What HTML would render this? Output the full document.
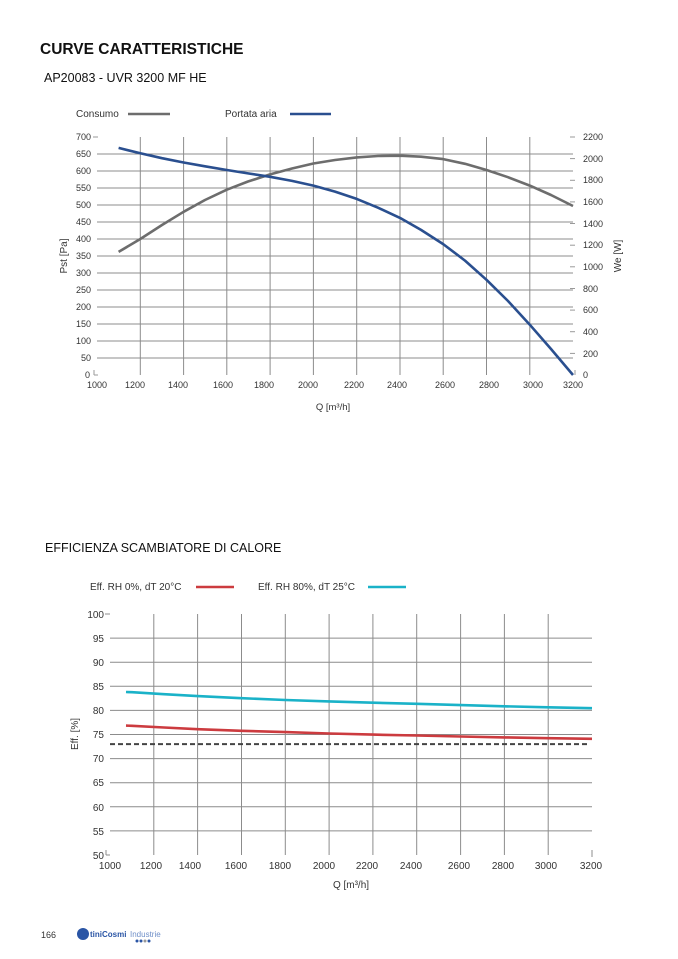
<!DOCTYPE html>
<html><head><meta charset="utf-8"><style>
html,body{margin:0;padding:0;background:#fff;}
svg{display:block;font-family:"Liberation Sans",sans-serif;}
</style></head><body>
<svg width="678" height="959" viewBox="0 0 678 959" xmlns="http://www.w3.org/2000/svg">
<text x="40" y="54" font-size="15.5" font-weight="bold" fill="#111">CURVE CARATTERISTICHE</text>
<text x="44" y="82" font-size="12.5" fill="#111">AP20083 - UVR 3200 MF HE</text>
<text x="76" y="117" font-size="10" fill="#333">Consumo</text>
<line x1="128" y1="114" x2="170" y2="114" stroke="#6d6d6d" stroke-width="2.5"/>
<text x="225" y="117" font-size="10" fill="#333">Portata aria</text>
<line x1="290" y1="114" x2="331" y2="114" stroke="#2a4f8f" stroke-width="2.5"/>
<g stroke="#8c8c8c" stroke-width="1">
<line x1="97" y1="358" x2="573" y2="358"/><line x1="97" y1="341" x2="573" y2="341"/><line x1="97" y1="324" x2="573" y2="324"/><line x1="97" y1="307" x2="573" y2="307"/><line x1="97" y1="290" x2="573" y2="290"/><line x1="97" y1="273" x2="573" y2="273"/><line x1="97" y1="256" x2="573" y2="256"/><line x1="97" y1="239" x2="573" y2="239"/><line x1="97" y1="222" x2="573" y2="222"/><line x1="97" y1="205" x2="573" y2="205"/><line x1="97" y1="188" x2="573" y2="188"/><line x1="97" y1="171" x2="573" y2="171"/><line x1="97" y1="154" x2="573" y2="154"/>
<line x1="140.3" y1="137" x2="140.3" y2="375"/><line x1="183.6" y1="137" x2="183.6" y2="375"/><line x1="226.8" y1="137" x2="226.8" y2="375"/><line x1="270.1" y1="137" x2="270.1" y2="375"/><line x1="313.4" y1="137" x2="313.4" y2="375"/><line x1="356.7" y1="137" x2="356.7" y2="375"/><line x1="400" y1="137" x2="400" y2="375"/><line x1="443.2" y1="137" x2="443.2" y2="375"/><line x1="486.5" y1="137" x2="486.5" y2="375"/><line x1="529.8" y1="137" x2="529.8" y2="375"/>
</g>
<g stroke="#9a9a9a"><line x1="93" y1="137" x2="98" y2="137"/><line x1="94" y1="370" x2="94" y2="375"/><line x1="94" y1="375" x2="98" y2="375"/>
<line x1="570" y1="137" x2="575" y2="137"/><line x1="570" y1="158.6" x2="575" y2="158.6"/><line x1="570" y1="180.3" x2="575" y2="180.3"/><line x1="570" y1="201.9" x2="575" y2="201.9"/><line x1="570" y1="223.5" x2="575" y2="223.5"/><line x1="570" y1="245.2" x2="575" y2="245.2"/><line x1="570" y1="266.8" x2="575" y2="266.8"/><line x1="570" y1="288.5" x2="575" y2="288.5"/><line x1="570" y1="310.1" x2="575" y2="310.1"/><line x1="570" y1="331.7" x2="575" y2="331.7"/><line x1="570" y1="353.4" x2="575" y2="353.4"/><line x1="575" y1="370" x2="575" y2="375"/></g>
<g font-size="9" fill="#333" text-anchor="end">
<text x="91" y="140">700</text><text x="91" y="157">650</text><text x="91" y="174">600</text><text x="91" y="191">550</text><text x="91" y="208">500</text><text x="91" y="225">450</text><text x="91" y="242">400</text><text x="91" y="259">350</text><text x="91" y="276">300</text><text x="91" y="293">250</text><text x="91" y="310">200</text><text x="91" y="327">150</text><text x="91" y="344">100</text><text x="91" y="361">50</text><text x="90" y="378">0</text>
</g>
<g font-size="9" fill="#333">
<text x="583" y="140">2200</text><text x="583" y="162">2000</text><text x="583" y="183">1800</text><text x="583" y="205">1600</text><text x="583" y="227">1400</text><text x="583" y="248">1200</text><text x="583" y="270">1000</text><text x="583" y="292">800</text><text x="583" y="313">600</text><text x="583" y="335">400</text><text x="583" y="357">200</text><text x="583" y="378">0</text>
</g>
<g font-size="9" fill="#333" text-anchor="middle">
<text x="97" y="388">1000</text><text x="135" y="388">1200</text><text x="178" y="388">1400</text><text x="223" y="388">1600</text><text x="264" y="388">1800</text><text x="308" y="388">2000</text><text x="354" y="388">2200</text><text x="397" y="388">2400</text><text x="445" y="388">2600</text><text x="489" y="388">2800</text><text x="533" y="388">3000</text><text x="573" y="388">3200</text>
</g>
<text x="333" y="410" font-size="9.5" fill="#333" text-anchor="middle">Q [m³/h]</text>
<text transform="translate(67,256) rotate(-90)" font-size="10" fill="#333" text-anchor="middle">Pst [Pa]</text>
<text transform="translate(621,256) rotate(-90)" font-size="10" fill="#333" text-anchor="middle">We [W]</text>
<polyline fill="none" stroke="#6d6d6d" stroke-width="2.6" stroke-linejoin="round" points="118.6,251.9 140.3,239 162,225 183.6,211.8 205,200 226.8,189.7 248,181.5 270.1,174.4 292,168.5 313.4,163.5 335,160 356.7,157.4 378,156 400,155.7 421,156.7 443.2,159.1 465,163.8 486.5,170 508,177.2 529.8,185.6 551,195 573,206"/>
<polyline fill="none" stroke="#2a4f8f" stroke-width="2.6" stroke-linejoin="round" points="118.6,147.9 140.3,153.3 162,158.2 183.6,162.5 205,166.3 226.8,170 248,173.4 270.1,176.8 292,180.9 313.4,185.6 335,191.6 356.7,198.9 378,207.7 400,217.9 421,229.9 443.2,244.1 465,260.6 486.5,279.8 508,301 529.8,324.7 551,349 573,375"/>

<text x="45" y="552" font-size="12.5" fill="#111">EFFICIENZA SCAMBIATORE DI CALORE</text>
<text x="90" y="590" font-size="10" fill="#333">Eff. RH 0%, dT 20°C</text>
<line x1="196" y1="587" x2="234" y2="587" stroke="#cc3b3f" stroke-width="2.5"/>
<text x="258" y="590" font-size="10" fill="#333">Eff. RH 80%, dT 25°C</text>
<line x1="368" y1="587" x2="406" y2="587" stroke="#1ab2c8" stroke-width="2.5"/>
<g stroke="#8c8c8c" stroke-width="1">
<line x1="110" y1="638.1" x2="592" y2="638.1"/><line x1="110" y1="662.2" x2="592" y2="662.2"/><line x1="110" y1="686.3" x2="592" y2="686.3"/><line x1="110" y1="710.4" x2="592" y2="710.4"/><line x1="110" y1="734.5" x2="592" y2="734.5"/><line x1="110" y1="758.6" x2="592" y2="758.6"/><line x1="110" y1="782.7" x2="592" y2="782.7"/><line x1="110" y1="806.8" x2="592" y2="806.8"/><line x1="110" y1="830.9" x2="592" y2="830.9"/>
<line x1="153.8" y1="614" x2="153.8" y2="855"/><line x1="197.6" y1="614" x2="197.6" y2="855"/><line x1="241.5" y1="614" x2="241.5" y2="855"/><line x1="285.3" y1="614" x2="285.3" y2="855"/><line x1="329.1" y1="614" x2="329.1" y2="855"/><line x1="372.9" y1="614" x2="372.9" y2="855"/><line x1="416.7" y1="614" x2="416.7" y2="855"/><line x1="460.6" y1="614" x2="460.6" y2="855"/><line x1="504.4" y1="614" x2="504.4" y2="855"/><line x1="548.2" y1="614" x2="548.2" y2="855"/><line x1="592" y1="850" x2="592" y2="857"/>
<line x1="105" y1="614" x2="110" y2="614"/><line x1="106" y1="850" x2="106" y2="855"/><line x1="106" y1="855" x2="110" y2="855"/>
</g>
<g font-size="10" fill="#333" text-anchor="end">
<text x="104" y="618">100</text><text x="104" y="642">95</text><text x="104" y="666">90</text><text x="104" y="690">85</text><text x="104" y="714">80</text><text x="104" y="738">75</text><text x="104" y="762">70</text><text x="104" y="786">65</text><text x="104" y="811">60</text><text x="104" y="835">55</text><text x="104" y="859">50</text>
</g>
<g font-size="10" fill="#333" text-anchor="middle">
<text x="110" y="869">1000</text><text x="151" y="869">1200</text><text x="190" y="869">1400</text><text x="236" y="869">1600</text><text x="280" y="869">1800</text><text x="324" y="869">2000</text><text x="367" y="869">2200</text><text x="411" y="869">2400</text><text x="459" y="869">2600</text><text x="503" y="869">2800</text><text x="546" y="869">3000</text><text x="591" y="869">3200</text>
</g>
<text x="351" y="888" font-size="10" fill="#333" text-anchor="middle">Q [m³/h]</text>
<text transform="translate(78,734) rotate(-90)" font-size="10" fill="#333" text-anchor="middle">Eff. [%]</text>
<line x1="110" y1="744.1" x2="590" y2="744.1" stroke="#444" stroke-width="2" stroke-dasharray="5,3"/>
<polyline fill="none" stroke="#1ab2c8" stroke-width="2.6" stroke-linejoin="round" points="126,692 131.9,692.2 164,694.2 197.6,696.1 241.5,698.2 285.3,700 329.1,701.4 372.9,702.7 416.7,703.8 460.6,705.1 504.4,706.3 548.2,707.3 592,708.2"/>
<polyline fill="none" stroke="#cc3b3f" stroke-width="2.6" stroke-linejoin="round" points="126,725.6 131.9,725.8 164,727.5 197.6,729.2 241.5,730.8 285.3,732.1 329.1,733.5 372.9,734.6 416.7,735.5 460.6,736.5 504.4,737.4 548.2,738.2 592,738.8"/>

<text x="41" y="938" font-size="9" fill="#333">166</text>
<circle cx="83" cy="934" r="6" fill="#2a55a5"/>
<text x="90" y="937" font-size="8" font-weight="bold" fill="#2a55a5">tiniCosmi</text>
<text x="130" y="937" font-size="8" fill="#6f8fc8">Industrie</text>
<circle cx="137" cy="941" r="1.5" fill="#2a55a5"/><circle cx="141" cy="941" r="1.5" fill="#2a55a5"/><circle cx="145" cy="941" r="1.5" fill="#999"/><circle cx="149" cy="941" r="1.5" fill="#2a55a5"/>
</svg>
</body></html>
